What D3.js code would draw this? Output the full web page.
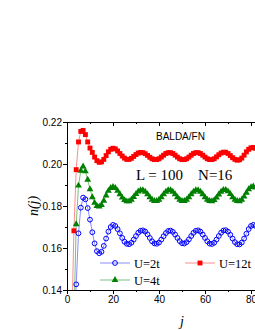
<!DOCTYPE html>
<html>
<head>
<meta charset="utf-8">
<script src="https://cdn.jsdelivr.net/npm/d3@7"></script>
<style>
  body { margin: 0; background: #fff; }
  svg { display: block; }
</style>
</head>
<body>
<div id="chart"></div>
<script>
// site index j starts at 1 for every series
var u2 = [0.090, 0.100, 0.110, 0.1427, 0.1670, 0.1792, 0.1840, 0.1832, 0.1790, 0.1735,
  0.1675, 0.1622, 0.1585, 0.1575, 0.1582, 0.1610, 0.1645, 0.1678, 0.1700, 0.1710,
  0.1705, 0.1690, 0.1670, 0.1648, 0.1630, 0.1620, 0.1618, 0.1625, 0.1640, 0.1657,
  0.1673, 0.1682, 0.1684, 0.1678, 0.1665, 0.1648, 0.1632, 0.1622, 0.1620, 0.1626,
  0.1640, 0.1656, 0.1671, 0.1681, 0.1683, 0.1677, 0.1664, 0.1648, 0.1633, 0.1623,
  0.1621, 0.1628, 0.1641, 0.1657, 0.1672, 0.1682, 0.1684, 0.1678, 0.1664, 0.1648,
  0.1632, 0.1621, 0.1619, 0.1625, 0.1640, 0.1657, 0.1673, 0.1683, 0.1685, 0.1678,
  0.1663, 0.1645, 0.1628, 0.1618, 0.1617, 0.1626, 0.1645, 0.1668, 0.1690, 0.1705,
  0.1710, 0.1705];

var u4 = [0.100, 0.110, 0.125, 0.1713, 0.1897, 0.1968, 0.1988, 0.1965, 0.1925, 0.1880,
  0.1842, 0.1815, 0.1800, 0.1797, 0.1805, 0.1825, 0.1850, 0.1872, 0.1886, 0.1891,
  0.1886, 0.1872, 0.1856, 0.1840, 0.1828, 0.1822, 0.1823, 0.1830, 0.1843, 0.1857,
  0.1869, 0.1875, 0.1875, 0.1868, 0.1856, 0.1842, 0.1830, 0.1824, 0.1824, 0.1830,
  0.1842, 0.1856, 0.1868, 0.1875, 0.1875, 0.1868, 0.1856, 0.1842, 0.1830, 0.1824,
  0.1824, 0.1830, 0.1842, 0.1856, 0.1868, 0.1875, 0.1875, 0.1868, 0.1856, 0.1842,
  0.1830, 0.1824, 0.1823, 0.1828, 0.1840, 0.1855, 0.1868, 0.1876, 0.1877, 0.1870,
  0.1857, 0.1842, 0.1830, 0.1824, 0.1823, 0.1830, 0.1845, 0.1863, 0.1880, 0.1890,
  0.1893, 0.1888];

var u12 = [0.100, 0.120, 0.1682, 0.1973, 0.2105, 0.2155, 0.2160, 0.2140, 0.2105, 0.2076,
  0.2055, 0.2033, 0.2016, 0.2008, 0.2010, 0.2022, 0.2040, 0.2058, 0.2070, 0.2075,
  0.2072, 0.2062, 0.2050, 0.2038, 0.2028, 0.2022, 0.2022, 0.2027, 0.2036, 0.2045,
  0.2052, 0.2055, 0.2054, 0.2049, 0.2041, 0.2032, 0.2025, 0.2021, 0.2021, 0.2025,
  0.2033, 0.2042, 0.2050, 0.2054, 0.2054, 0.2050, 0.2042, 0.2033, 0.2025, 0.2021,
  0.2021, 0.2025, 0.2033, 0.2042, 0.2050, 0.2054, 0.2054, 0.2050, 0.2042, 0.2033,
  0.2025, 0.2021, 0.2021, 0.2025, 0.2034, 0.2044, 0.2052, 0.2056, 0.2056, 0.2050,
  0.2040, 0.2030, 0.2022, 0.2018, 0.2020, 0.2028, 0.2042, 0.2058, 0.2070, 0.2077,
  0.2079, 0.2075];

var xTicks = [0, 20, 40, 60, 80, 100];
var xMinor = [10, 30, 50, 70, 90];
var yTicks = [0.14, 0.16, 0.18, 0.20, 0.22];
var yMinor = [0.15, 0.17, 0.19, 0.21];
var labels = ["U=2t", "U=4t", "U=12t"];

var width = 255, height = 330;
var margin = {top: 122, left: 67, bottom: 40};

var svg = d3.select("#chart").append("svg")
  .attr("width", width)
  .attr("height", height);

var x = d3.scaleLinear().domain([0, 100]).range([67, 297]);
var y = d3.scaleLinear().domain([0.14, 0.22]).range([290, 122]);

svg.append("clipPath").attr("id", "plot")
  .append("rect")
  .attr("x", 67).attr("y", 122)
  .attr("width", 230).attr("height", 168);

var series = [
  {name: labels[0], values: u2, color: "#0000ff", line: "#8c8cff"},
  {name: labels[1], values: u4, color: "#008000", line: "#7cc07c"},
  {name: labels[2], values: u12, color: "#ff0000", line: "#ff8c8c"}
];

var line = d3.line()
  .x(function(d, i) { return x(i + 1); })
  .y(function(d) { return y(d); });

// lines first, clipped to the frame
series.forEach(function(s) {
  svg.append("path")
    .attr("clip-path", "url(#plot)")
    .attr("d", line(s.values))
    .attr("fill", "none")
    .attr("stroke", s.line)
    .attr("stroke-width", 1);
});

function drawMarker(g, s, px, py) {
  if (s.name === "U=2t") {
    g.append("circle").attr("cx", px).attr("cy", py).attr("r", 2.4)
      .attr("fill", "none").attr("stroke", s.color).attr("stroke-width", 1);
  } else {
    var sym = s.name === "U=4t" ? d3.symbolTriangle : d3.symbolSquare;
    var size = s.name === "U=4t" ? 20 : 24;
    g.append("path")
      .attr("d", d3.symbol().type(sym).size(size)())
      .attr("transform", "translate(" + px + "," + py + ")")
      .attr("fill", s.color);
  }
}

series.forEach(function(s) {
  var g = svg.append("g");
  s.values.forEach(function(v, i) {
    if (v < 0.14) return;
    drawMarker(g, s, x(i + 1), y(v));
  });
});

// axes
var font = "'Liberation Sans', Arial, sans-serif";

var left = svg.append("g").attr("transform", "translate(67,0)")
  .call(d3.axisLeft(y).tickValues(yTicks).tickSize(4).tickPadding(1)
    .tickFormat(d3.format(".2f")));
svg.append("g").attr("transform", "translate(67,0)")
  .call(d3.axisLeft(y).tickValues(yMinor).tickSize(2).tickFormat(""));

var bottom = svg.append("g").attr("transform", "translate(0,290)")
  .call(d3.axisBottom(x).tickValues(xTicks).tickSize(4).tickPadding(2));
svg.append("g").attr("transform", "translate(0,290)")
  .call(d3.axisBottom(x).tickValues(xMinor).tickSize(2).tickFormat(""));

svg.append("g").attr("transform", "translate(0,122)")
  .call(d3.axisTop(x).tickValues(xTicks).tickSize(-4).tickFormat(""));
svg.append("g").attr("transform", "translate(0,122)")
  .call(d3.axisTop(x).tickValues(xMinor).tickSize(-2).tickFormat(""));

svg.selectAll(".domain").attr("stroke", "#000").attr("stroke-width", 1);
svg.selectAll(".tick line").attr("stroke", "#000");
svg.selectAll(".tick text")
  .attr("font-family", font)
  .attr("font-size", 10)
  .attr("fill", "#000");

// axis titles
svg.append("text")
  .attr("x", 182).attr("y", 326)
  .attr("text-anchor", "middle")
  .attr("font-family", "'Liberation Serif', 'Times New Roman', serif")
  .attr("font-style", "italic")
  .attr("font-size", 14)
  .text("j");

svg.append("text")
  .attr("transform", "translate(38,206) rotate(-90)")
  .attr("text-anchor", "middle")
  .attr("font-family", "'Liberation Serif', 'Times New Roman', serif")
  .attr("font-style", "italic")
  .attr("font-size", 14)
  .text("n(j)");

// annotations
svg.append("text")
  .attr("x", 156).attr("y", 140)
  .attr("font-family", font)
  .attr("font-size", 10)
  .text("BALDA/FN");

svg.append("text")
  .attr("x", 136).attr("y", 180)
  .attr("font-family", "'Liberation Serif', 'Times New Roman', serif")
  .attr("font-size", 15)
  .attr("xml:space", "preserve")
  .text("L = 100    N=16");

// legend
var legend = [
  {s: series[0], x0: 100, y0: 263},
  {s: series[1], x0: 100, y0: 280},
  {s: series[2], x0: 185, y0: 263}
];
legend.forEach(function(d) {
  var g = svg.append("g");
  g.append("line")
    .attr("x1", d.x0).attr("x2", d.x0 + 30)
    .attr("y1", d.y0).attr("y2", d.y0)
    .attr("stroke", d.s.line).attr("stroke-width", 1);
  drawMarker(g, d.s, d.x0 + 15, d.y0);
  g.append("text")
    .attr("x", d.x0 + 34).attr("y", d.y0 + 4.5)
    .attr("font-family", "'Liberation Serif', 'Times New Roman', serif")
    .attr("font-size", 12.5)
    .text(d.s.name);
});
</script>
</body>
</html>
